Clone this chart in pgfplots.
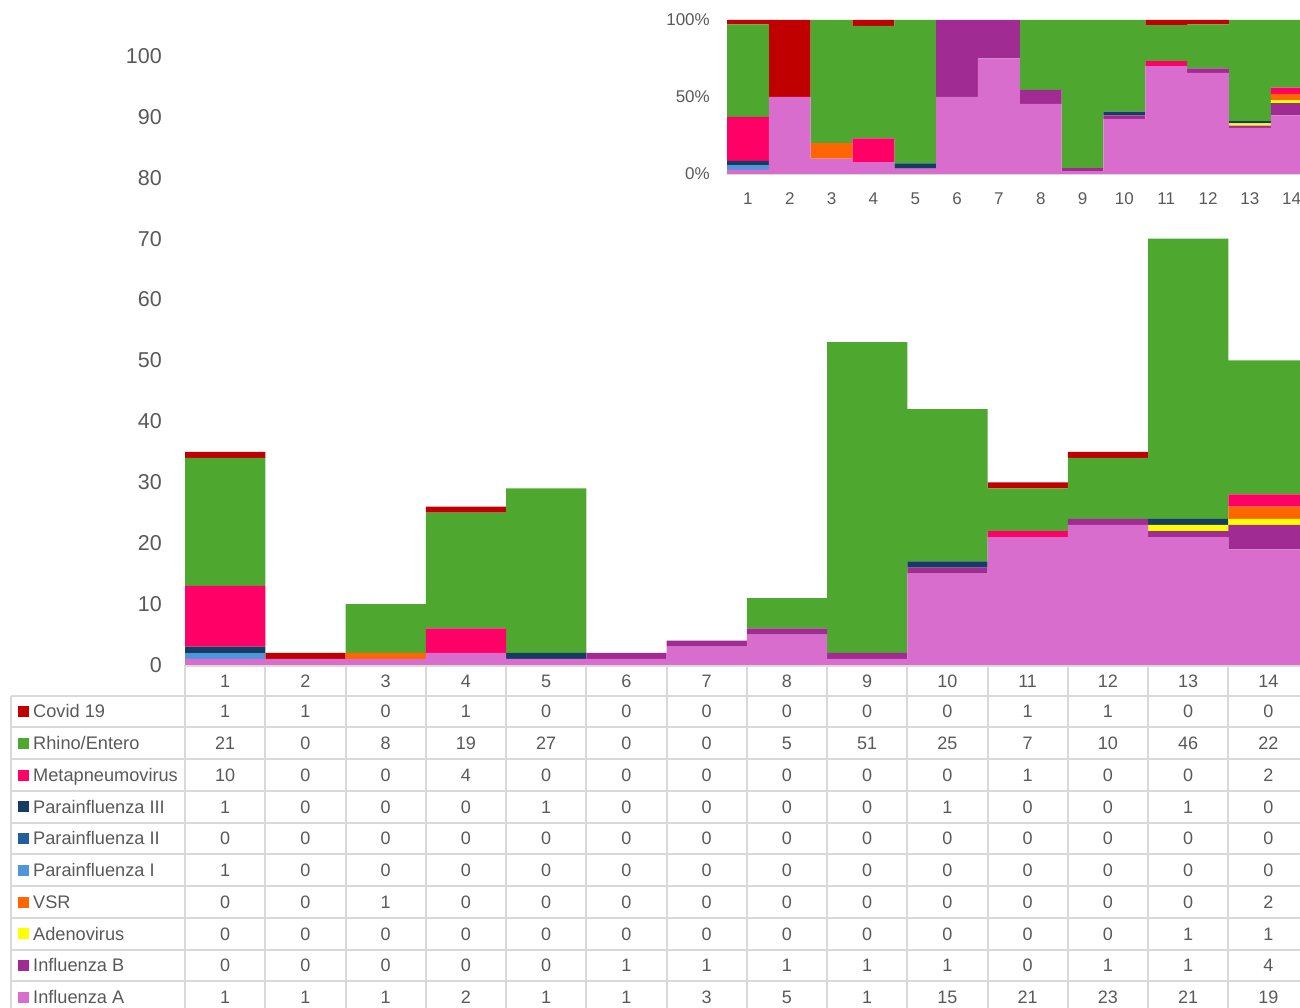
\documentclass[border=0pt]{standalone}
\usepackage{fontspec}
\setmainfont{Liberation Sans}
\usepackage{pgfplots}
\usepackage{pgfplotstable}
\pgfplotsset{compat=1.18}
\definecolor{cCovid}{HTML}{C00000}
\definecolor{cRhino}{HTML}{4EA72E}
\definecolor{cMeta}{HTML}{FF0066}
\definecolor{cPIII}{HTML}{153D64}
\definecolor{cPII}{HTML}{215F9A}
\definecolor{cPI}{HTML}{4E95D9}
\definecolor{cVSR}{HTML}{FF6600}
\definecolor{cAdeno}{HTML}{FFFF00}
\definecolor{cFluB}{HTML}{A02B93}
\definecolor{cFluA}{HTML}{D86DCD}
\definecolor{cText}{HTML}{595959}
\definecolor{cGrid}{HTML}{D9D9D9}

\pgfplotstableread{
x fluA fluB adeno vsr pI pII pIII meta rhino covid tot
1 1 0 0 0 1 0 1 10 21 1 35
2 1 0 0 0 0 0 0 0 0 1 2
3 1 0 0 1 0 0 0 0 8 0 10
4 2 0 0 0 0 0 0 4 19 1 26
5 1 0 0 0 0 0 1 0 27 0 29
6 1 1 0 0 0 0 0 0 0 0 2
7 3 1 0 0 0 0 0 0 0 0 4
8 5 1 0 0 0 0 0 0 5 0 11
9 1 1 0 0 0 0 0 0 51 0 53
10 15 1 0 0 0 0 1 0 25 0 42
11 21 0 0 0 0 0 0 1 7 1 30
12 23 1 0 0 0 0 0 0 10 1 35
13 21 1 1 0 0 0 1 0 46 0 70
14 19 4 1 2 0 0 0 2 22 0 50
}\datatable

\begin{document}
\begin{tikzpicture}[x=1pt,y=1pt]
\useasboundingbox (0,0) rectangle (1300,1008);

% ---------------- main stacked chart ----------------
\begin{axis}[
  at={(185pt,343pt)}, anchor=south west,
  scale only axis, width=1123.5pt, height=609pt,
  xmin=0.5, xmax=14.5, ymin=0, ymax=100,
  ybar stacked, bar width=1,
  axis line style={draw=none},
  tick style={draw=none},
  xtick=\empty,
  ytick={0,10,...,100},
  /pgf/number format/assume math mode=true,
  yticklabel style={font=\fontsize{21.5}{24}\selectfont, text=cText, anchor=east, inner sep=0pt, xshift=-23pt},
]
\addplot[fill=cFluA, draw=none] table[x=x,y=fluA]{\datatable};
\addplot[fill=cFluB, draw=none] table[x=x,y=fluB]{\datatable};
\addplot[fill=cAdeno, draw=none] table[x=x,y=adeno]{\datatable};
\addplot[fill=cVSR, draw=none] table[x=x,y=vsr]{\datatable};
\addplot[fill=cPI, draw=none] table[x=x,y=pI]{\datatable};
\addplot[fill=cPII, draw=none] table[x=x,y=pII]{\datatable};
\addplot[fill=cPIII, draw=none] table[x=x,y=pIII]{\datatable};
\addplot[fill=cMeta, draw=none] table[x=x,y=meta]{\datatable};
\addplot[fill=cRhino, draw=none] table[x=x,y=rhino]{\datatable};
\addplot[fill=cCovid, draw=none] table[x=x,y=covid]{\datatable};
\end{axis}

% ---------------- inset 100% chart ----------------
\begin{axis}[
  at={(727pt,834pt)}, anchor=south west,
  scale only axis, width=585.6pt, height=154pt,
  xmin=0.5, xmax=14.5, ymin=0, ymax=100,
  ybar stacked, bar width=1,
  axis x line*=bottom, axis y line*=left,
  x axis line style={draw=cGrid, line width=2pt, -},
  y axis line style={draw=none},
  tick style={draw=none},
  xtick={1,...,14},
  ytick={0,50,100},
  yticklabels={0\%,50\%,100\%},
  /pgf/number format/assume math mode=true,
  yticklabel style={font=\fontsize{17}{20}\selectfont, text=cText, anchor=east, inner sep=0pt, xshift=-17pt},
  xticklabel style={font=\fontsize{17}{20}\selectfont, text=cText, anchor=center, inner sep=0pt, yshift=-25pt},
]
\addplot[fill=cFluA, draw=none] table[x=x,y expr=\thisrow{fluA}/\thisrow{tot}*100]{\datatable};
\addplot[fill=cFluB, draw=none] table[x=x,y expr=\thisrow{fluB}/\thisrow{tot}*100]{\datatable};
\addplot[fill=cAdeno, draw=none] table[x=x,y expr=\thisrow{adeno}/\thisrow{tot}*100]{\datatable};
\addplot[fill=cVSR, draw=none] table[x=x,y expr=\thisrow{vsr}/\thisrow{tot}*100]{\datatable};
\addplot[fill=cPI, draw=none] table[x=x,y expr=\thisrow{pI}/\thisrow{tot}*100]{\datatable};
\addplot[fill=cPII, draw=none] table[x=x,y expr=\thisrow{pII}/\thisrow{tot}*100]{\datatable};
\addplot[fill=cPIII, draw=none] table[x=x,y expr=\thisrow{pIII}/\thisrow{tot}*100]{\datatable};
\addplot[fill=cMeta, draw=none] table[x=x,y expr=\thisrow{meta}/\thisrow{tot}*100]{\datatable};
\addplot[fill=cRhino, draw=none] table[x=x,y expr=\thisrow{rhino}/\thisrow{tot}*100]{\datatable};
\addplot[fill=cCovid, draw=none] table[x=x,y expr=\thisrow{covid}/\thisrow{tot}*100]{\datatable};
\end{axis}

% ---------------- data table ----------------
\begin{scope}[line width=2pt]
  \foreach \i in {0,...,10} \draw[cGrid] (11,{1008-695.7-31.75*\i}) -- (1312,{1008-695.7-31.75*\i});
  \draw[cGrid] (184,342) -- (1312,342);
  \draw[cGrid] (11,{1008-695.7}) -- (11,-10);
  \foreach \k in {0,...,14} \draw[cGrid] ({185+80.25*\k},342) -- ({185+80.25*\k},-10);
\end{scope}

\foreach \k in {1,...,14}
  \node[font=\fontsize{18}{20}\selectfont, text=cText, anchor=base, inner sep=0pt]
    at ({185+80.25*(\k-0.5)},{1008-681-6.4}) {\k};

\foreach [count=\i from 0] \name/\col/\vals in {
  {Covid 19}/cCovid/{1,1,0,1,0,0,0,0,0,0,1,1,0,0},
  {Rhino/Entero}/cRhino/{21,0,8,19,27,0,0,5,51,25,7,10,46,22},
  {Metapneumovirus}/cMeta/{10,0,0,4,0,0,0,0,0,0,1,0,0,2},
  {Parainfluenza III}/cPIII/{1,0,0,0,1,0,0,0,0,1,0,0,1,0},
  {Parainfluenza II}/cPII/{0,0,0,0,0,0,0,0,0,0,0,0,0,0},
  {Parainfluenza I}/cPI/{1,0,0,0,0,0,0,0,0,0,0,0,0,0},
  {VSR}/cVSR/{0,0,1,0,0,0,0,0,0,0,0,0,0,2},
  {Adenovirus}/cAdeno/{0,0,0,0,0,0,0,0,0,0,0,0,1,1},
  {Influenza B}/cFluB/{0,0,0,0,0,1,1,1,1,1,0,1,1,4},
  {Influenza A}/cFluA/{1,1,1,2,1,1,3,5,1,15,21,23,21,19}} {
  \pgfmathsetmacro{\yc}{1008-711.6-31.75*\i}
  \fill[\col] (18,{\yc-5.5}) rectangle (29,{\yc+5.5});
  \node[font=\fontsize{18.2}{20}\selectfont, text=cText, anchor=base west, inner sep=0pt]
    at (33,{\yc-6.4}) {\name};
  \foreach [count=\k] \v in \vals {
    \node[font=\fontsize{18}{20}\selectfont, text=cText, anchor=base, inner sep=0pt]
      at ({185+80.25*(\k-0.5)},{\yc-6.4}) {\v};
  }
}
\end{tikzpicture}
\end{document}
